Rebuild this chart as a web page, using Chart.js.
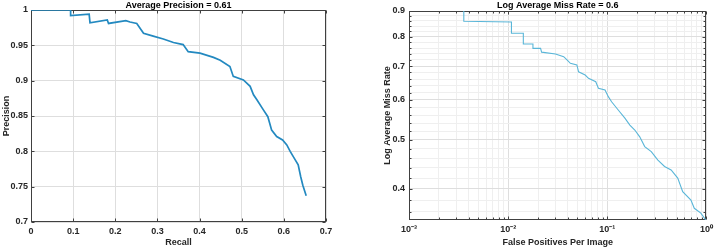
<!DOCTYPE html>
<html>
<head>
<meta charset="utf-8">
<script src="https://cdn.jsdelivr.net/npm/chart.js@4/dist/chart.umd.min.js"></script>
<style>
  html, body { margin: 0; padding: 0; background: #fff; }
  #wrap { position: relative; width: 717px; height: 249px; }
  canvas { position: absolute; top: 0; }
  #pr { left: 0; }
  #mr { left: 358px; }
</style>
</head>
<body>
<div id="wrap">
  <canvas id="pr" width="358" height="249"></canvas>
  <canvas id="mr" width="359" height="249"></canvas>
</div>
<script>
// Precision / recall curve (left)
var prRecall = [0, 0.094, 0.094, 0.138, 0.140, 0.181, 0.184, 0.225, 0.235, 0.251, 0.267,
  0.290, 0.314, 0.338, 0.361, 0.373, 0.401, 0.433, 0.449, 0.472, 0.480, 0.504, 0.520,
  0.528, 0.536, 0.551, 0.562, 0.571, 0.583, 0.597, 0.607, 0.615, 0.627, 0.634, 0.640,
  0.645, 0.653];
var prPrecision = [1, 1, 0.992, 0.994, 0.982, 0.986, 0.981, 0.985, 0.983, 0.981, 0.967,
  0.963, 0.959, 0.954, 0.951, 0.941, 0.939, 0.933, 0.929, 0.920, 0.906, 0.901, 0.892,
  0.880, 0.873, 0.859, 0.849, 0.830, 0.821, 0.816, 0.809, 0.800, 0.788, 0.781, 0.764,
  0.752, 0.737];
var prXTicks = [0, 0.1, 0.2, 0.3, 0.4, 0.5, 0.6, 0.7];
var prYTicks = [0.7, 0.75, 0.8, 0.85, 0.9, 0.95, 1];

// Miss rate vs false positives per image (right)
var mrFppi = [0.00357, 0.00357, 0.01079, 0.01079, 0.01422, 0.01422, 0.01778, 0.01778,
  0.02123, 0.02173, 0.0300, 0.0363, 0.0392, 0.0424, 0.0493, 0.0513, 0.0598, 0.0646,
  0.0764, 0.0813, 0.0948, 0.1023, 0.1104, 0.1288, 0.1503, 0.1687, 0.1892, 0.2123,
  0.2382, 0.2773, 0.3236, 0.3776, 0.4397, 0.5129, 0.5754, 0.6966, 0.7534, 0.8770, 0.9842];
var mrMiss = [0.900, 0.859, 0.856, 0.813, 0.813, 0.774, 0.774, 0.759,
  0.759, 0.746, 0.740, 0.731, 0.720, 0.709, 0.704, 0.682, 0.672, 0.662,
  0.652, 0.633, 0.628, 0.609, 0.595, 0.573, 0.552, 0.535, 0.523, 0.507,
  0.485, 0.474, 0.456, 0.443, 0.436, 0.420, 0.395, 0.380, 0.366, 0.358, 0.347];
var mrXTicks = [0.001, 0.002, 0.003, 0.004, 0.005, 0.006, 0.007, 0.008, 0.009,
  0.01, 0.02, 0.03, 0.04, 0.05, 0.06, 0.07, 0.08, 0.09,
  0.1, 0.2, 0.3, 0.4, 0.5, 0.6, 0.7, 0.8, 0.9, 1];
var mrXLabels = { '0.001': '10\u207B\u00B3', '0.01': '10\u207B\u00B2', '0.1': '10\u207B\u00B9', '1': '10\u2070' };
var mrYTicks = [0.36, 0.38, 0.4, 0.42, 0.44, 0.46, 0.48, 0.5, 0.52, 0.54, 0.56, 0.58,
  0.6, 0.62, 0.64, 0.66, 0.68, 0.7, 0.72, 0.74, 0.76, 0.78, 0.8, 0.82, 0.84, 0.86, 0.88, 0.9];

var FONT = '"Liberation Sans", Arial, Helvetica, sans-serif';
var AXIS = '#404040';

function pts(xs, ys) {
  return xs.map(function (x, i) { return { x: x, y: ys[i] }; });
}
function isTenth(v) { return Math.abs(v * 10 - Math.round(v * 10)) < 1e-6; }
function fixTicks(list) {
  return function (s) { s.ticks = list.map(function (v) { return { value: v }; }); };
}
function labelFont() { return { family: FONT, size: 9, weight: 'bold', lineHeight: 1.2 }; }

// MATLAB-style box with inward tick marks on all four sides (drawn under the curve)
var boxTicks = {
  id: 'boxTicks',
  beforeDatasetsDraw: function (chart) {
    var ctx = chart.ctx, a = chart.chartArea, sx = chart.scales.x, sy = chart.scales.y;
    var L = Math.round(a.left) + 0.5, R = Math.round(a.right) - 0.5;
    var T = Math.round(a.top) + 0.5, B = Math.round(a.bottom) - 0.5;
    ctx.save();
    ctx.strokeStyle = AXIS;
    ctx.lineWidth = 1;
    ctx.beginPath();
    sx.ticks.forEach(function (t) {
      var p = Math.round(sx.getPixelForValue(t.value)) + 0.5;
      var len = t.label === '' ? 2 : 3;
      ctx.moveTo(p, B); ctx.lineTo(p, B - len);
      ctx.moveTo(p, T); ctx.lineTo(p, T + len);
    });
    sy.ticks.forEach(function (t) {
      var p = Math.round(sy.getPixelForValue(t.value)) + 0.5;
      var len = t.label === '' ? 2 : 3;
      ctx.moveTo(L, p); ctx.lineTo(L + len, p);
      ctx.moveTo(R, p); ctx.lineTo(R - len, p);
    });
    ctx.stroke();
    ctx.strokeRect(L, T, R - L, B - T);
    ctx.restore();
  }
};

function gridColor(c) {
  return c.tick && c.tick.label === '' ? '#efefef' : '#dedede';
}

// top axis only carries the plot title, so it is centred over the plot box
function titleAxis(type, min, max, text, h) {
  return {
    type: type, position: 'top', min: min, max: max,
    afterFit: function (s) { s.height = h; },
    grid: { display: false, drawTicks: false },
    border: { display: false },
    ticks: { display: false },
    title: { display: true, text: text, color: '#000', font: labelFont(), padding: { top: 0, bottom: 0 } }
  };
}

new Chart(document.getElementById('pr'), {
  type: 'scatter',
  data: {
    datasets: [{
      data: pts(prRecall, prPrecision),
      showLine: true,
      borderColor: '#2389c0',
      borderWidth: 1.7,
      pointRadius: 0,
      tension: 0
    }]
  },
  options: {
    responsive: false, animation: false, events: [],
    layout: { padding: { left: 0, top: 0, right: 32, bottom: 0 } },
    plugins: { legend: { display: false }, tooltip: { enabled: false } },
    scales: {
      x: {
        type: 'linear', min: 0, max: 0.7,
        afterBuildTicks: fixTicks(prXTicks),
        afterFit: function (s) { s.height = 27; },
        grid: { color: '#dedede', drawTicks: false },
        border: { display: false },
        ticks: {
          color: '#262626', padding: 4, maxRotation: 0, autoSkip: false,
          font: { family: FONT, size: 9, weight: 'bold' },
          callback: function (v) { return String(+v.toFixed(2)); }
        },
        title: { display: true, text: 'Recall', color: '#262626', font: labelFont(), padding: { top: 0, bottom: 1 } }
      },
      x2: titleAxis('linear', 0, 0.7, 'Average Precision = 0.61', 10),
      y: {
        type: 'linear', min: 0.7, max: 1,
        afterBuildTicks: fixTicks(prYTicks),
        afterFit: function (s) { s.width = 31; },
        grid: { color: '#dedede', drawTicks: false },
        border: { display: false },
        ticks: {
          color: '#262626', padding: 3, autoSkip: false,
          font: { family: FONT, size: 9, weight: 'bold' },
          callback: function (v) { return String(+v.toFixed(2)); }
        },
        title: { display: true, text: 'Precision', color: '#262626', font: labelFont(), padding: { top: 1, bottom: 0 } }
      }
    }
  },
  plugins: [boxTicks]
});

new Chart(document.getElementById('mr'), {
  type: 'scatter',
  data: {
    datasets: [{
      data: pts(mrFppi, mrMiss),
      showLine: true,
      borderColor: '#5ab6d8',
      borderWidth: 1.1,
      pointRadius: 0,
      tension: 0
    }]
  },
  options: {
    responsive: false, animation: false, events: [],
    layout: { padding: { left: 0, top: 0, right: 8, bottom: 0 } },
    plugins: { legend: { display: false }, tooltip: { enabled: false } },
    scales: {
      x: {
        type: 'logarithmic', min: 0.001, max: 1,
        afterBuildTicks: fixTicks(mrXTicks),
        afterFit: function (s) { s.height = 29; },
        grid: { color: gridColor, drawTicks: false },
        border: { display: false },
        ticks: {
          color: '#262626', padding: 4, maxRotation: 0, autoSkip: false,
          font: { family: FONT, size: 9, weight: 'bold' },
          callback: function (v) { return mrXLabels[String(+v.toFixed(3))] || ''; }
        },
        title: { display: true, text: 'False Positives Per Image', color: '#262626', font: labelFont(), padding: { top: 0, bottom: 1 } }
      },
      x2: titleAxis('logarithmic', 0.001, 1, 'Log Average Miss Rate = 0.6', 11),
      y: {
        type: 'logarithmic', min: 0.347, max: 0.9,
        afterBuildTicks: fixTicks(mrYTicks),
        afterFit: function (s) { s.width = 51; },
        grid: { color: gridColor, drawTicks: false },
        border: { display: false },
        ticks: {
          color: '#262626', padding: 4, autoSkip: false,
          font: { family: FONT, size: 9, weight: 'bold' },
          callback: function (v) { return isTenth(v) ? String(+v.toFixed(1)) : ''; }
        },
        title: { display: true, text: 'Log Average Miss Rate', color: '#262626', font: labelFont(), padding: { top: 24, bottom: 0 } }
      }
    }
  },
  plugins: [boxTicks]
});
</script>
</body>
</html>
